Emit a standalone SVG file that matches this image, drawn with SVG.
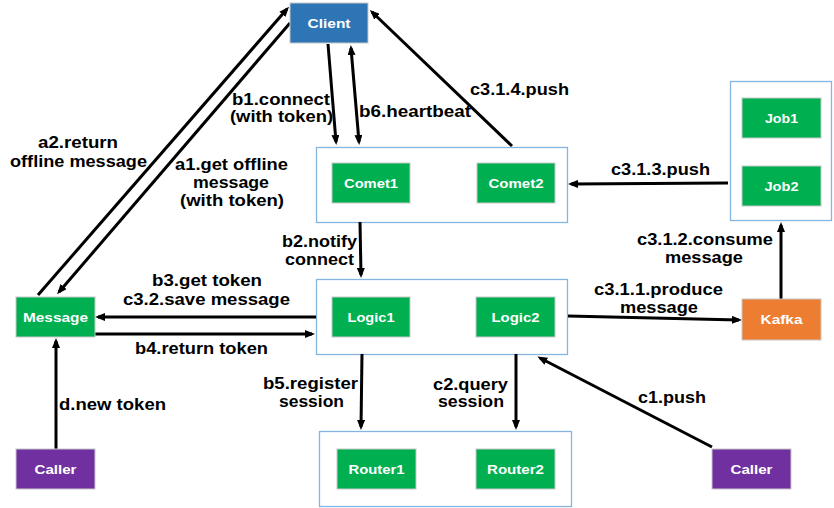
<svg xmlns="http://www.w3.org/2000/svg" width="834" height="508" viewBox="0 0 834 508">
<style>
.bg{fill:#ffffff}
.cont{fill:#ffffff;stroke:#86b4e0;stroke-width:1.3}
.n{stroke:#c8c8c8;stroke-width:1}
.g{fill:#00b050}
.b{fill:#2e75b6}
.o{fill:#ed7d31}
.p{fill:#7030a0}
.nt{font-family:"Liberation Sans",Arial,sans-serif;font-weight:bold;font-size:13px;fill:#ffffff;text-anchor:middle}
.lb{font-family:"Liberation Sans",Arial,sans-serif;font-weight:bold;font-size:16.5px;fill:#000000}
.m{text-anchor:middle}
.c line{stroke:#000000;stroke-width:3;fill:none}
</style>
<defs>
<marker id="ah" viewBox="0 0 10 8" refX="7" refY="4" markerWidth="10" markerHeight="8" markerUnits="userSpaceOnUse" orient="auto-start-reverse">
<path d="M0,0 L10,4 L0,8 z" fill="#000000"/>
</marker>
</defs>
<rect class="bg" x="0" y="0" width="834" height="508"/>

<g id="comet-group"><rect class="cont" x="316.5" y="147.5" width="251" height="75"/></g>
<g id="logic-group"><rect class="cont" x="316.5" y="279.5" width="251" height="75"/></g>
<g id="router-group"><rect class="cont" x="319.5" y="431.5" width="252" height="75"/></g>
<g id="job-group"><rect class="cont" x="730.5" y="81.5" width="101" height="139"/></g>

<g class="c" id="connectors">
<line x1="38" y1="295" x2="287" y2="9" marker-end="url(#ah)"/>
<line x1="290" y1="23" x2="59" y2="292" marker-end="url(#ah)"/>
<line x1="328" y1="44" x2="336" y2="142" marker-end="url(#ah)"/>
<line x1="351" y1="48" x2="359" y2="142" marker-start="url(#ah)" marker-end="url(#ah)"/>
<line x1="512" y1="146" x2="372" y2="12" marker-end="url(#ah)"/>
<line x1="728" y1="183" x2="571" y2="184" marker-end="url(#ah)"/>
<line x1="781" y1="299" x2="781" y2="225" marker-end="url(#ah)"/>
<line x1="568" y1="316" x2="739" y2="320" marker-end="url(#ah)"/>
<line x1="316" y1="317" x2="98" y2="317" marker-end="url(#ah)"/>
<line x1="95" y1="334" x2="312" y2="334" marker-end="url(#ah)"/>
<line x1="360" y1="222" x2="361" y2="275" marker-end="url(#ah)"/>
<line x1="362" y1="354" x2="361" y2="427" marker-end="url(#ah)"/>
<line x1="516" y1="354" x2="516" y2="427" marker-end="url(#ah)"/>
<line x1="712" y1="447" x2="540" y2="358" marker-end="url(#ah)"/>
<line x1="56" y1="449" x2="56" y2="341" marker-end="url(#ah)"/>
</g>

<g id="client"><rect class="n b" x="290" y="3" width="78" height="40"/><text class="nt" x="329" y="28" font-size="14" textLength="43" lengthAdjust="spacingAndGlyphs">Client</text></g>
<g id="comet1"><rect class="n g" x="332" y="163" width="78" height="40"/><text class="nt" x="371" y="187.5" textLength="54" lengthAdjust="spacingAndGlyphs">Comet1</text></g>
<g id="comet2"><rect class="n g" x="477" y="163" width="78" height="40"/><text class="nt" x="516" y="187.5" textLength="55" lengthAdjust="spacingAndGlyphs">Comet2</text></g>
<g id="job1"><rect class="n g" x="742" y="98" width="79" height="40"/><text class="nt" x="781.5" y="122.5" textLength="33" lengthAdjust="spacingAndGlyphs">Job1</text></g>
<g id="job2"><rect class="n g" x="742" y="166" width="79" height="40"/><text class="nt" x="781.5" y="190.5" textLength="34" lengthAdjust="spacingAndGlyphs">Job2</text></g>
<g id="message"><rect class="n g" x="16" y="297" width="79" height="40"/><text class="nt" x="55.5" y="321.5" textLength="65" lengthAdjust="spacingAndGlyphs">Message</text></g>
<g id="logic1"><rect class="n g" x="332" y="297" width="78" height="40"/><text class="nt" x="371" y="321.5" textLength="47" lengthAdjust="spacingAndGlyphs">Logic1</text></g>
<g id="logic2"><rect class="n g" x="476" y="297" width="79" height="40"/><text class="nt" x="515.5" y="321.5" textLength="48" lengthAdjust="spacingAndGlyphs">Logic2</text></g>
<g id="kafka"><rect class="n o" x="742" y="299" width="79" height="41"/><text class="nt" x="781.5" y="324" textLength="42" lengthAdjust="spacingAndGlyphs">Kafka</text></g>
<g id="router1"><rect class="n g" x="337" y="449" width="79" height="40"/><text class="nt" x="376.5" y="473.5" textLength="56" lengthAdjust="spacingAndGlyphs">Router1</text></g>
<g id="router2"><rect class="n g" x="476" y="449" width="79" height="40"/><text class="nt" x="515.5" y="473.5" textLength="57" lengthAdjust="spacingAndGlyphs">Router2</text></g>
<g id="caller-left"><rect class="n p" x="16" y="449" width="79" height="40"/><text class="nt" x="55.5" y="473.5" textLength="42" lengthAdjust="spacingAndGlyphs">Caller</text></g>
<g id="caller-right"><rect class="n p" x="712" y="449" width="79" height="40"/><text class="nt" x="751.5" y="473.5" textLength="42" lengthAdjust="spacingAndGlyphs">Caller</text></g>

<g id="labels">
<text class="lb m" x="78" y="148" textLength="80" lengthAdjust="spacingAndGlyphs">a2.return</text>
<text class="lb m" x="78.5" y="167" textLength="137" lengthAdjust="spacingAndGlyphs">offline message</text>
<text class="lb m" x="231.5" y="170" textLength="113" lengthAdjust="spacingAndGlyphs">a1.get offline</text>
<text class="lb m" x="231" y="188" textLength="76" lengthAdjust="spacingAndGlyphs">message</text>
<text class="lb m" x="232" y="206" textLength="104" lengthAdjust="spacingAndGlyphs">(with token)</text>
<text class="lb m" x="281" y="105" textLength="98" lengthAdjust="spacingAndGlyphs">b1.connect</text>
<text class="lb m" x="281.5" y="122" textLength="103" lengthAdjust="spacingAndGlyphs">(with token)</text>
<text class="lb" x="359" y="117" textLength="112" lengthAdjust="spacingAndGlyphs">b6.heartbeat</text>
<text class="lb" x="470" y="95" textLength="99" lengthAdjust="spacingAndGlyphs">c3.1.4.push</text>
<text class="lb" x="611" y="175" textLength="99" lengthAdjust="spacingAndGlyphs">c3.1.3.push</text>
<text class="lb m" x="705" y="245" textLength="136" lengthAdjust="spacingAndGlyphs">c3.1.2.consume</text>
<text class="lb m" x="704" y="263" textLength="78" lengthAdjust="spacingAndGlyphs">message</text>
<text class="lb m" x="658.5" y="295" textLength="129" lengthAdjust="spacingAndGlyphs">c3.1.1.produce</text>
<text class="lb m" x="659" y="313" textLength="78" lengthAdjust="spacingAndGlyphs">message</text>
<text class="lb m" x="319.5" y="247" textLength="75" lengthAdjust="spacingAndGlyphs">b2.notify</text>
<text class="lb m" x="319.5" y="265" textLength="69" lengthAdjust="spacingAndGlyphs">connect</text>
<text class="lb m" x="207" y="286" textLength="110" lengthAdjust="spacingAndGlyphs">b3.get token</text>
<text class="lb m" x="206.5" y="305" textLength="167" lengthAdjust="spacingAndGlyphs">c3.2.save message</text>
<text class="lb m" x="201.5" y="354" textLength="133" lengthAdjust="spacingAndGlyphs">b4.return token</text>
<text class="lb m" x="310.5" y="389" textLength="95" lengthAdjust="spacingAndGlyphs">b5.register</text>
<text class="lb m" x="311.5" y="407" textLength="65" lengthAdjust="spacingAndGlyphs">session</text>
<text class="lb" x="59" y="410" textLength="107" lengthAdjust="spacingAndGlyphs">d.new token</text>
<text class="lb m" x="470.5" y="390" textLength="75" lengthAdjust="spacingAndGlyphs">c2.query</text>
<text class="lb m" x="471" y="407" textLength="66" lengthAdjust="spacingAndGlyphs">session</text>
<text class="lb" x="638" y="403" textLength="68" lengthAdjust="spacingAndGlyphs">c1.push</text>
</g>
</svg>
